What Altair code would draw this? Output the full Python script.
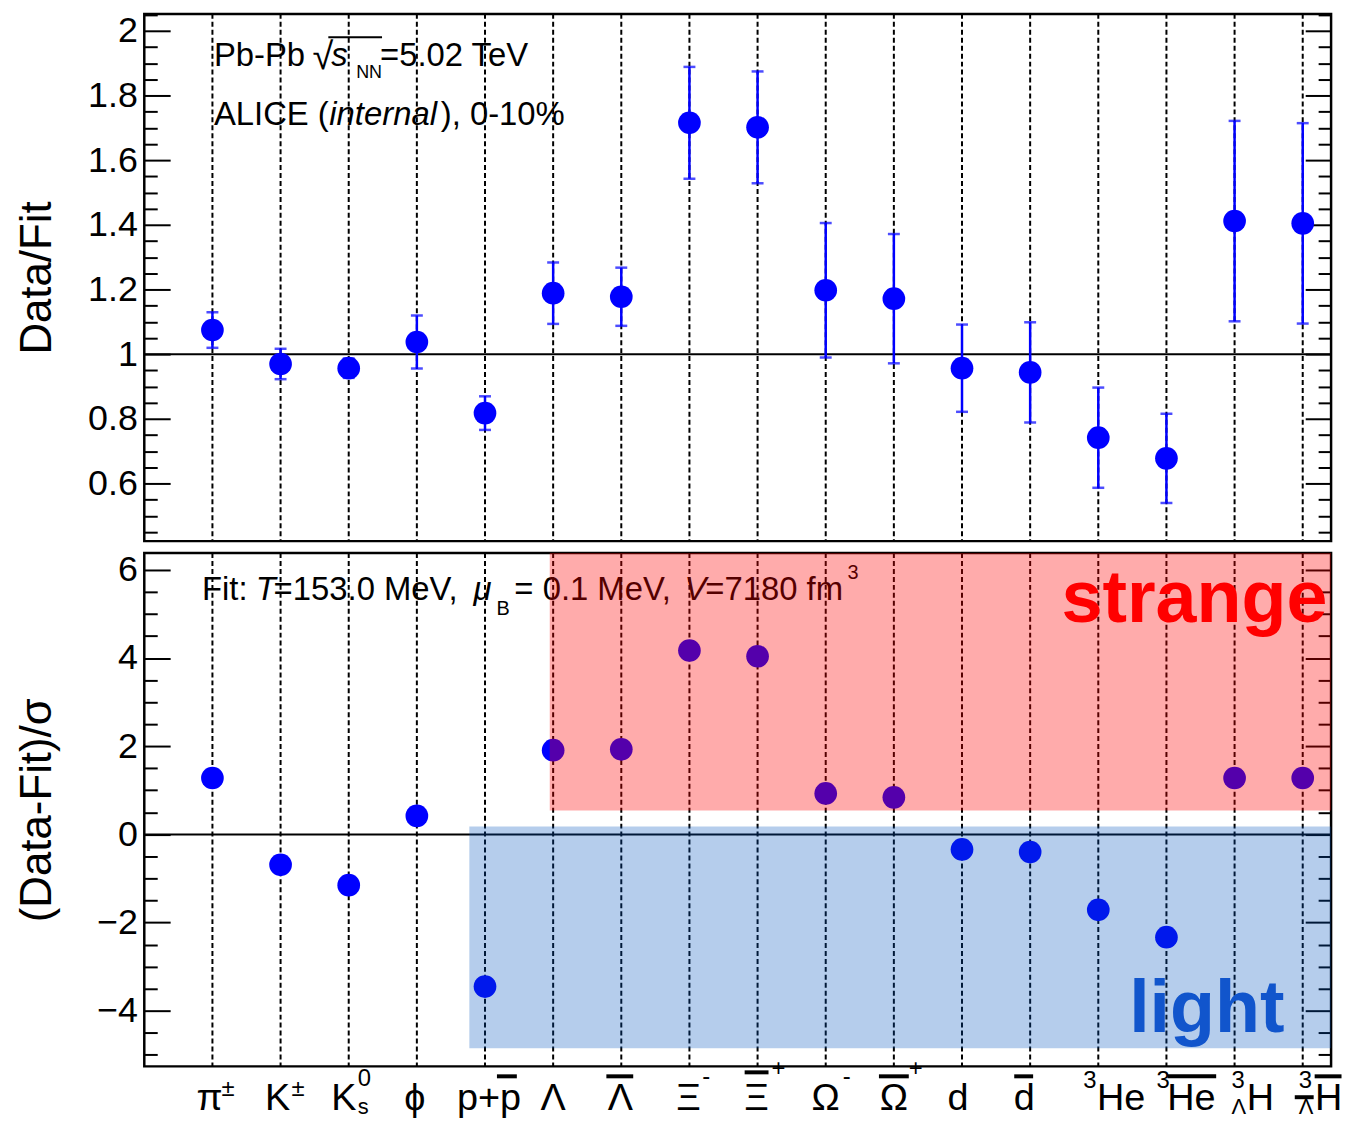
import altair as alt
import pandas as pd

FONT = "Liberation Sans, Arial, Helvetica, sans-serif"
BLUE = "#0000FF"

# ------------------------------------------------------------------ data
species = ["pi", "K", "K0s", "phi", "p", "Lambda", "antiLambda", "Xi", "antiXi",
           "Omega", "antiOmega", "d", "antid", "He3", "antiHe3", "H3L", "antiH3L"]
species_position = [1, 2, 3, 4, 5, 6, 7, 8, 9, 10, 11, 12, 13, 14, 15, 16, 17]
data_over_fit = [1.075, 0.970, 0.957, 1.038, 0.818, 1.189, 1.178, 1.716, 1.702,
                 1.198, 1.172, 0.957, 0.944, 0.742, 0.678, 1.412, 1.405]
data_over_fit_err = [0.055, 0.047, 0.030, 0.082, 0.052, 0.095, 0.090, 0.173, 0.173,
                     0.208, 0.200, 0.135, 0.155, 0.155, 0.138, 0.310, 0.310]
deviation_sigma = [1.28, -0.69, -1.15, 0.42, -3.45, 1.91, 1.93, 4.17, 4.04,
                   0.93, 0.84, -0.34, -0.40, -1.71, -2.33, 1.28, 1.28]

# shaded groups in the lower panel
region_name = ["strange", "light"]
region_x_start = [5.95, 4.77]
region_y_low = [0.54, -4.85]
region_y_high = [6.38, 0.18]

# tick-label typography for the particle names
label_base = ["π", "K", "K", "ϕ", "p+p", "Λ", "Λ", "Ξ", "Ξ", "Ω", "Ω", "d", "d",
              "He", "He", "H", "H"]
label_sup = ["±", "±", "0", "", "", "", "", "-", "+", "-", "+", "", "", "3", "3", "3", "3"]
label_sub = ["", "", "s", "", "", "", "", "", "", "", "", "", "", "", "", "Λ", "Λ"]

# ------------------------------------------------------------------ layout
W = 1193
PX = 68.5
XMAX = W / PX
H_TOP = 530
H_BOT = 516
TOP_DOMAIN = [0.422, 2.053]
BOT_DOMAIN = [-5.26, 6.38]
X0, Y0_TOP, Y0_BOT = 143, 13.5, 550

BASE_Y, SUB_Y = 1110, 1114
base_dx = [-3, -3, -5, -2, 4, 0, -1, -1, -1, 0, 0, -4, -6, 23, 25, 26, 26]
sup_dx = [9, 11, 9, 0, 0, 0, 0, 13, 14, 17, 15, 0, 0, -15, -10, -3, -4]
sup_y = [1096, 1096, 1086, 0, 0, 0, 0, 1084, 1076, 1084, 1076, 0, 0, 1088, 1088, 1088, 1088]
sub_dx = [0, 0, 9, 0, 0, 0, 0, 0, 0, 0, 0, 0, 0, 0, 0, -3, -4]
# overlines: (species index 1-based, dx from, dx to, y in page px)
overlines = [(5, 12, 32, 1076), (7, -15, 12, 1076), (9, -13, 11, 1072), (11, -15, 15, 1076),
             (13, -16, 3, 1076), (15, 1, 50, 1076), (17, 12, 39, 1076), (17, -8, 11, 1097)]

xscale = alt.Scale(domain=[0, XMAX], nice=False, zero=False)
X = alt.X("pos:Q", scale=xscale, axis=None)

df = pd.DataFrame({
    "species": species,
    "pos": species_position,
    "ratio": data_over_fit,
    "err": data_over_fit_err,
    "dev": deviation_sigma,
})
df["lo"] = df["ratio"] - df["err"]
df["hi"] = df["ratio"] + df["err"]


def y_axis_layers(field, scale, majors, minors, title, title_pad):
    base = alt.Chart(df).mark_point(opacity=0)
    layers = [base.encode(
        x=X,
        y=alt.Y(f"{field}:Q", scale=scale, axis=alt.Axis(
            orient="left", values=majors, ticks=False, domain=False, grid=False,
            labelFontSize=36, labelFont=FONT, labelColor="black", labelPadding=7,
            format="~g", title=title, titleFontSize=44, titleFont=FONT,
            titleFontWeight="normal", titleColor="black", titlePadding=title_pad)))]
    for orient, vals, size in [("right", majors, 26), ("right", minors, 13),
                               ("left", majors, 26), ("left", minors, 13)]:
        layers.append(base.encode(
            x=X,
            y=alt.Y(f"{field}:Q", scale=scale, axis=alt.Axis(
                orient=orient, offset=-W, values=vals, ticks=True, tickSize=size,
                tickWidth=2, tickColor="black", labels=False, domain=False,
                grid=False, title=None))))
    return layers


def text_piece(text, x, y, size, style="normal", weight="normal", color="black", y0=0.0):
    d = pd.DataFrame({"t": [text]})
    return alt.Chart(d).mark_text(
        align="left", baseline="alphabetic", font=FONT, fontSize=size,
        fontStyle=style, fontWeight=weight, color=color
    ).encode(text="t:N", x=alt.value(x - X0), y=alt.value(y - y0))


dashes = alt.Chart(df).mark_rule(color="black", strokeWidth=2, strokeDash=[5, 3]).encode(x=X)

# ------------------------------------------------------------------ top panel
top_scale = alt.Scale(domain=TOP_DOMAIN, nice=False, zero=False)
top_major = [0.6, 0.8, 1, 1.2, 1.4, 1.6, 1.8, 2]
top_minor = [round(0.45 + 0.05 * i, 2) for i in range(33)]
top_minor = [v for v in top_minor if all(abs(v - m) > 1e-6 for m in top_major)]


def YT(field):
    return alt.Y(f"{field}:Q", scale=top_scale, axis=None)


ref_top = alt.Chart(pd.DataFrame({"ref": [1.0]})).mark_rule(color="black", strokeWidth=2).encode(
    y=YT("ref"))
err_rule = alt.Chart(df).mark_rule(color=BLUE, strokeWidth=2.5).encode(
    x=X, y=YT("lo"), y2="hi:Q")
cap_lo = alt.Chart(df).mark_tick(orient="horizontal", size=12, thickness=2.5, color=BLUE).encode(
    x=X, y=YT("lo"))
cap_hi = alt.Chart(df).mark_tick(orient="horizontal", size=12, thickness=2.5, color=BLUE).encode(
    x=X, y=YT("hi"))
pts_top = alt.Chart(df).mark_circle(size=520, color=BLUE, opacity=1).encode(
    x=X, y=YT("ratio"))

top_texts = [
    ("Pb-Pb", 213, 66, 33, "normal"),
    ("√", 312, 69, 38, "normal"),
    ("s", 331, 66, 33, "italic"),
    ("NN", 356, 78, 18, "normal"),
    ("=5.02 TeV", 380, 66, 33, "normal"),
    ("ALICE (", 213, 125, 33, "normal"),
    ("internal", 329, 125, 33, "italic"),
    ("), 0-10%", 441, 125, 33, "normal"),
]
top_text_layers = [text_piece(t, x, y, s, st, y0=Y0_TOP) for t, x, y, s, st in top_texts]
# radical sign bar over "s_NN"
vinculum = alt.Chart(pd.DataFrame({"t": ["bar"]})).mark_rule(color="black", strokeWidth=2).encode(
    x=alt.value(328 - X0), x2=alt.value(382 - X0), y=alt.value(37 - Y0_TOP))

top = alt.layer(
    dashes, ref_top, err_rule, cap_lo, cap_hi, pts_top, *top_text_layers, vinculum,
    *y_axis_layers("ratio", top_scale, top_major, top_minor, "Data/Fit", 28)
).resolve_axis(y="independent").properties(width=W, height=H_TOP)

# ------------------------------------------------------------------ bottom panel
bot_scale = alt.Scale(domain=BOT_DOMAIN, nice=False, zero=False)
bot_major = [-4, -2, 0, 2, 4, 6]
bot_minor = [-5 + 0.5 * i for i in range(23)]
bot_minor = [v for v in bot_minor if v not in bot_major]


def YB(field):
    return alt.Y(f"{field}:Q", scale=bot_scale, axis=None)


ref_bot = alt.Chart(pd.DataFrame({"ref": [0.0]})).mark_rule(color="black", strokeWidth=2).encode(
    y=YB("ref"))
pts_bot = alt.Chart(df).mark_circle(size=520, color=BLUE, opacity=1).encode(
    x=X, y=YB("dev"))

fit_texts = [
    ("Fit: ", 201, 597, 33, "normal"),
    ("T", 255, 597, 33, "italic"),
    ("=153.0 MeV,", 273, 597, 33, "normal"),
    ("μ", 474, 597, 33, "italic"),
    ("B", 497, 612, 20, "normal"),
    ("= 0.1 MeV,", 515, 597, 33, "normal"),
    ("V", 686, 597, 33, "italic"),
    ("=7180 fm", 707, 597, 33, "normal"),
    ("3", 850, 576, 20, "normal"),
]
fit_layers = [text_piece(t, x, y, s, st, y0=Y0_BOT) for t, x, y, s, st in fit_texts]

reg = pd.DataFrame({"name": region_name, "x1": region_x_start, "ylo": region_y_low,
                    "yhi": region_y_high})
reg["x2"] = XMAX
strange_rect = alt.Chart(reg[reg["name"] == "strange"]).mark_rect(
    color="#FF0000", opacity=0.33).encode(
    x=alt.X("x1:Q", scale=xscale, axis=None), x2="x2:Q",
    y=YB("ylo"), y2="yhi:Q")
light_rect = alt.Chart(reg[reg["name"] == "light"]).mark_rect(
    color="#0052BE", opacity=0.29).encode(
    x=alt.X("x1:Q", scale=xscale, axis=None), x2="x2:Q",
    y=YB("ylo"), y2="yhi:Q")

region_labels = [
    text_piece("strange", 1065, 619, 74, "normal", "bold", "#FF0000", y0=Y0_BOT),
    text_piece("light", 1133, 1031, 74, "normal", "bold", "#1155CC", y0=Y0_BOT),
]

# particle-name labels under the lower panel
pieces = []
for i in range(len(species)):
    p = species_position[i]
    pieces.append({"xd": p + base_dx[i] / PX, "text": label_base[i], "y": BASE_Y, "size": 38,
                   "align": "center"})
    if label_sup[i]:
        pieces.append({"xd": p + sup_dx[i] / PX, "text": label_sup[i], "y": sup_y[i],
                       "size": 24, "align": "left"})
    if label_sub[i]:
        pieces.append({"xd": p + sub_dx[i] / PX, "text": label_sub[i], "y": SUB_Y,
                       "size": 22, "align": "left"})
pieces = pd.DataFrame(pieces)
label_layers = []
for (yv, sz, al), grp in pieces.groupby(["y", "size", "align"]):
    label_layers.append(alt.Chart(grp).mark_text(
        align=al, baseline="alphabetic", font=FONT, fontSize=int(sz), color="black"
    ).encode(x=alt.X("xd:Q", scale=xscale, axis=None), text="text:N",
             y=alt.value(float(yv) - Y0_BOT)))

ol = pd.DataFrame([{"a": p + a / PX, "b": p + b / PX, "y": y} for p, a, b, y in overlines])
for yv, grp in ol.groupby("y"):
    label_layers.append(alt.Chart(grp).mark_rule(color="black", strokeWidth=4).encode(
        x=alt.X("a:Q", scale=xscale, axis=None), x2="b:Q", y=alt.value(float(yv) - Y0_BOT)))

bottom = alt.layer(
    dashes, ref_bot, pts_bot, *fit_layers, strange_rect, light_rect, *region_labels,
    *label_layers,
    *y_axis_layers("dev", bot_scale, bot_major, bot_minor, "(Data-Fit)/σ", 37)
).resolve_axis(y="independent").properties(width=W, height=H_BOT)

chart = alt.vconcat(top, bottom, spacing=6).properties(
    padding={"left": 6, "top": 0, "right": 0, "bottom": 0}
).configure_view(stroke="black", strokeWidth=2.5)

chart.save("out.html", embed_options={"renderer": "svg", "actions": False})
